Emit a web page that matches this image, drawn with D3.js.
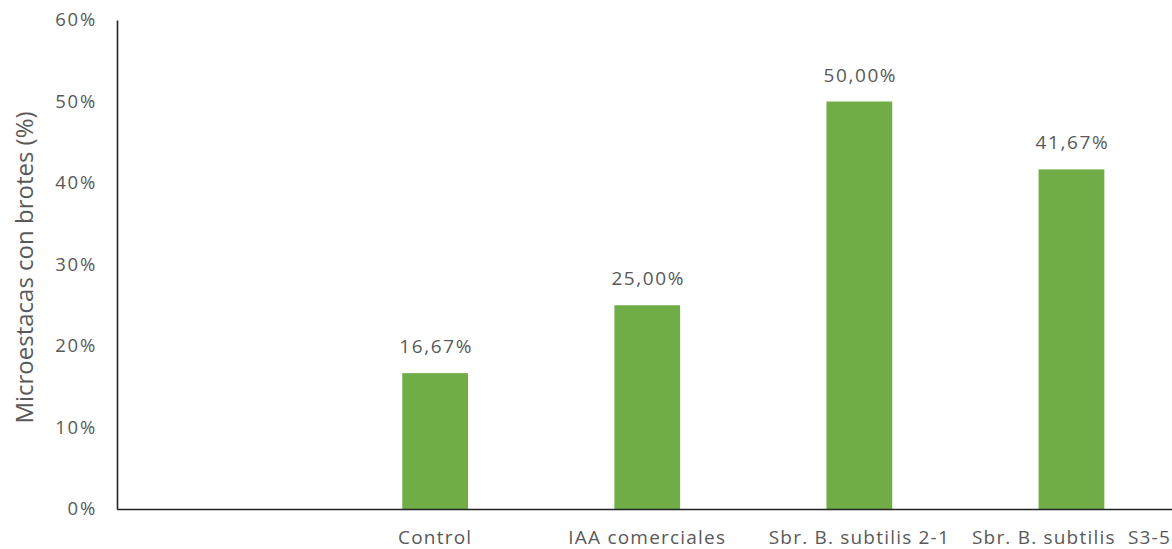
<!DOCTYPE html>
<html>
<head>
<meta charset="utf-8">
<script src="https://cdn.jsdelivr.net/npm/d3@7"></script>
<style>
  html, body { margin: 0; padding: 0; background: #fff; }
  svg { display: block; }
  text { font-family: "Open Sans", "Noto Sans", sans-serif; fill: #595959; }
</style>
</head>
<body>
<svg id="chart" width="1172" height="549"></svg>
<script>
// Categories (the first slot is left empty on purpose)
const categories = ["", "Control", "IAA comerciales", "Sbr. B. subtilis 2-1", "Sbr. B. subtilis  S3-5"];
// Share of micro-cuttings with shoots, in percent
const values = [null, 16.67, 25.00, 50.00, 41.67];
const yTicks = [0, 10, 20, 30, 40, 50, 60];

const svg = d3.select("#chart");
const plotLeft = 117, plotRight = 1177.5, plotTop = 20, plotBottom = 509;

const x = d3.scaleBand()
  .domain(categories)
  .range([plotLeft, plotRight])
  .paddingInner(0.69)
  .paddingOuter(0.345);

const y = d3.scaleLinear().domain([0, 60]).range([plotBottom, plotTop]);

const fmt = v => v.toFixed(2).replace(".", ",") + "%";

// Bars
const data = categories.map((c, i) => ({ c, v: values[i] })).filter(d => d.v !== null);
svg.append("g").selectAll("rect").data(data).join("rect")
  .attr("x", d => x(d.c))
  .attr("width", x.bandwidth())
  .attr("y", d => y(d.v))
  .attr("height", d => y(0) - y(d.v))
  .attr("fill", "#70AD47");

// Value labels
svg.append("g").selectAll("text").data(data).join("text")
  .attr("x", d => x(d.c) + x.bandwidth() / 2 + 1)
  .attr("y", d => y(d.v) - 20)
  .attr("text-anchor", "middle")
  .style("font-size", "19px")
  .style("letter-spacing", "1.6px")
  .text(d => fmt(d.v));

// Y axis
const yAxis = svg.append("g")
  .attr("transform", `translate(${plotLeft},0)`)
  .call(d3.axisLeft(y).tickValues(yTicks).tickSize(0).tickPadding(20).tickFormat(d => d + "%"));
yAxis.select(".domain").attr("stroke", "#222").attr("stroke-width", 1.6);
yAxis.selectAll("text").style("font-size", "18.5px").attr("fill", "#595959")
  .style("letter-spacing", "1.8px")
  .style("font-family", "'Open Sans', sans-serif");

// X axis
const xAxis = svg.append("g")
  .attr("transform", `translate(0,${plotBottom})`)
  .call(d3.axisBottom(x).tickSize(0).tickPadding(22));
xAxis.select(".domain").attr("stroke", "#222").attr("stroke-width", 1.6);
xAxis.selectAll("text").style("font-size", "19px").attr("fill", "#595959")
  .style("letter-spacing", "1.2px")
  .style("white-space", "pre")
  .style("font-family", "'Open Sans', sans-serif");

// Y axis title
svg.append("text")
  .attr("transform", `translate(33,${(plotTop + plotBottom) / 2 + 3}) rotate(-90)`)
  .attr("text-anchor", "middle")
  .style("font-size", "24px")
  .text("Microestacas con brotes (%)");
</script>
</body>
</html>
